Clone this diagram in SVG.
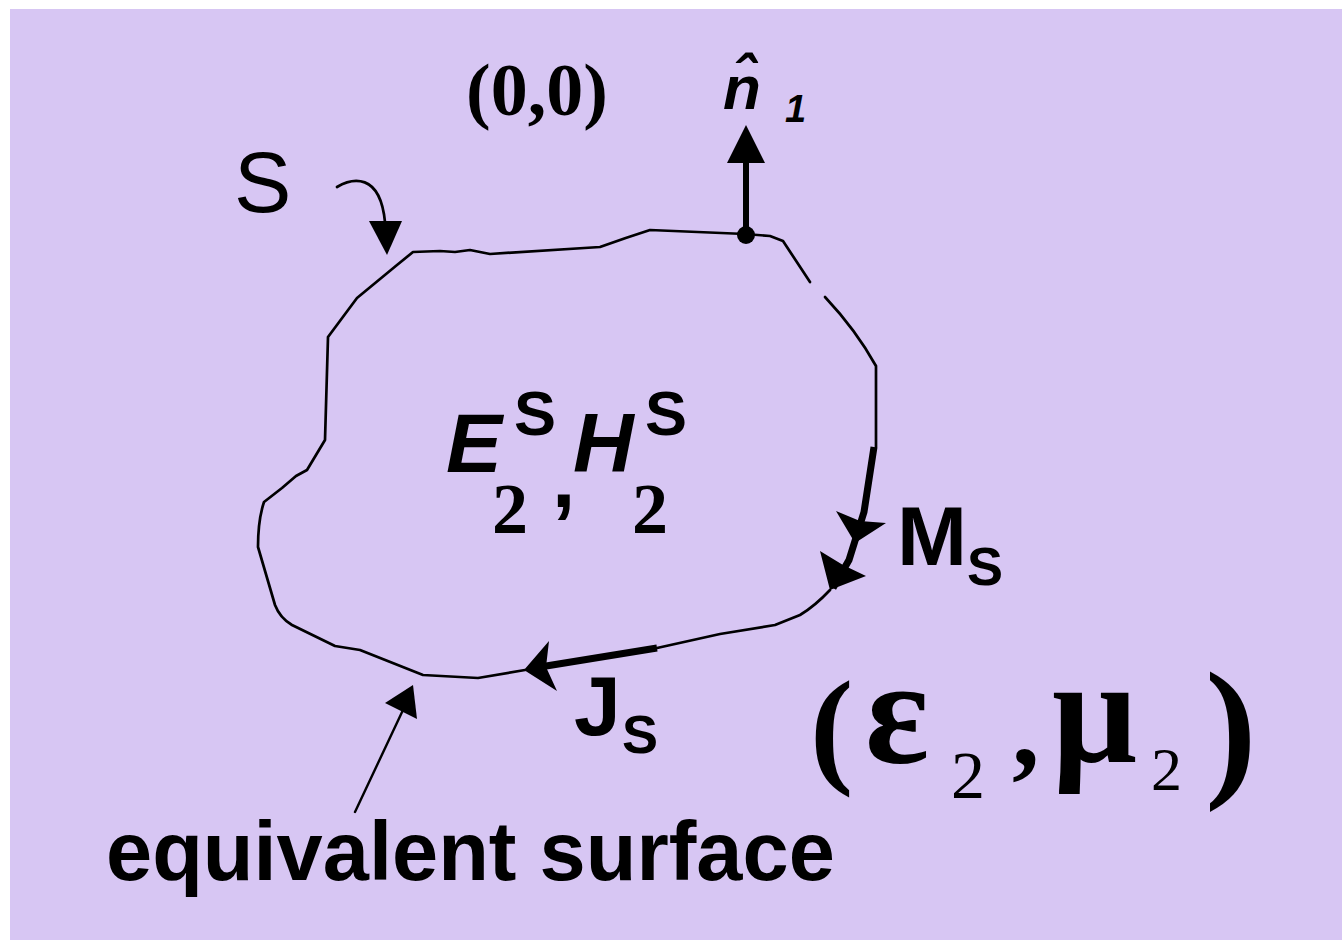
<svg xmlns="http://www.w3.org/2000/svg" width="1342" height="940" viewBox="0 0 1342 940">
<style>
.sans{font-family:"Liberation Sans",Arial,sans-serif;fill:#000}
.serif{font-family:"Liberation Serif","Times New Roman",serif;fill:#000}
.b{font-weight:bold}
.i{font-style:italic}
.thin{fill:none;stroke:#000;stroke-width:2.7;stroke-linejoin:round;stroke-linecap:round}
.thick{fill:none;stroke:#000;stroke-width:7;stroke-linecap:butt}
.head{fill:#000;stroke:none}
</style>
<rect x="0" y="0" width="1342" height="940" fill="#ffffff"/>
<rect x="10" y="9" width="1332" height="931" fill="#D7C6F3"/>

<g id="surface">
<path class="thin" d="M745,234 L770,236 L783,241 L810,282"/>
<path class="thin" d="M825,297 Q856,330 876,366 L876,447"/>
<path class="thin" d="M830,590 Q815,606 800,615 L775,625 L720,634 L657,648"/>
<path class="thin" d="M745,234 L650,230 Q625,238 600,247 L490,254 L470,250 L455,252 L440,251 L413,252 L397,265 L357,298 L328,337 L325,440 L307,470 L296,476 L282,488 L264,502 Q258,520 258,547 L275,605 Q280,618 292,625 L335,646 L360,650 L423,675 L478,678 L525,670"/>
</g>

<g id="connectors">
<g id="normal-arrow">
<line class="thick" x1="746" y1="235" x2="746" y2="160" style="stroke-width:6"/>
<polygon class="head" points="746,125 765,163 727,163"/>
<circle cx="746" cy="235" r="9" fill="#000"/>
</g>
<g id="s-arrow">
<path class="thin" d="M337,187 C352,178 380,172 385,222"/>
<polygon class="head" points="387,255 369,221 402,221"/>
</g>
<g id="ms-arrow">
<polyline class="thick" points="874,447 864,512 849,560 833,588"/>
<polygon class="head" points="855,543 836,511 860,521 886,523"/>
<polygon class="head" points="830,590 820,551 843,565 866,576"/>
</g>
<g id="js-arrow">
<line class="thick" x1="657" y1="648" x2="540" y2="667"/>
<polygon class="head" points="524,670 549,641 546,667 557,691"/>
</g>
<g id="eq-arrow">
<line class="thin" x1="355" y1="812" x2="403" y2="710" style="stroke-width:2.4"/>
<polygon class="head" points="413,685 417,719 385,703"/>
</g>
</g>

<g id="label-origin"><text class="serif b" x="466" y="115" font-size="74">(0,0)</text></g>
<g id="label-n1">
<text class="sans b i" x="723" y="109" font-size="62">n&#x302;</text>
<text class="sans b i" x="785" y="122" font-size="38">1</text>
</g>
<g id="label-S"><text class="sans" x="234" y="212" font-size="86">S</text></g>
<g id="label-fields">
<text class="sans b i" x="446" y="472" font-size="84">E</text>
<text class="sans b" x="514" y="435" font-size="63">S</text>
<text class="serif b" x="492" y="533" font-size="72">2</text>
<text class="sans b" x="552" y="507" font-size="84">,</text>
<text class="sans b i" x="573" y="472" font-size="84">H</text>
<text class="sans b" x="645" y="435" font-size="63">S</text>
<text class="serif b" x="632" y="533" font-size="72">2</text>
</g>
<g id="label-Ms">
<text class="sans b" x="897" y="565" font-size="84">M</text>
<text class="sans b" x="967" y="585" font-size="54">S</text>
</g>
<g id="label-Js">
<text class="sans b" x="574" y="735" font-size="84">J</text>
<text class="sans b" x="622" y="753" font-size="54">S</text>
</g>
<g id="label-medium">
<text class="serif b" x="810" y="770" font-size="130">(</text>
<text class="serif b" x="865" y="763" font-size="150">ε</text>
<text class="serif" x="951" y="798" font-size="68">2</text>
<text class="serif b" x="1012" y="765" font-size="110">,</text>
<text class="serif b" x="1052" y="762" font-size="150">μ</text>
<text class="serif" x="1151" y="790" font-size="62">2</text>
<text class="serif b" x="1205" y="779" font-size="155">)</text>
</g>
<g id="label-equivalent"><text class="sans b" x="106" y="880" font-size="83">equivalent surface</text></g>
</svg>
